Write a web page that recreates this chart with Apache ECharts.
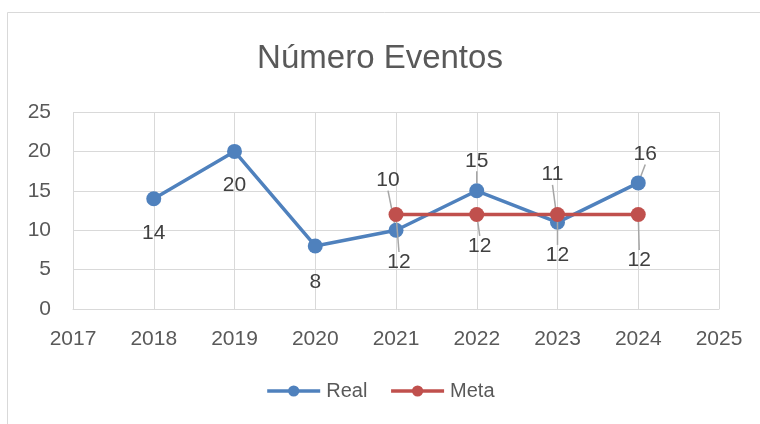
<!DOCTYPE html>
<html><head><meta charset="utf-8">
<script src="https://cdn.jsdelivr.net/npm/echarts@6/dist/echarts.min.js"></script>
<style>html,body{margin:0;padding:0;background:#fff}#c{width:760px;height:424px}</style>
</head><body><div id="c"></div>
<script>
const years = [2018, 2019, 2020, 2021, 2022, 2023, 2024];
const realValues = [14, 20, 8, 10, 15, 11, 16];
const metaYears = [2021, 2022, 2023, 2024];
const metaValues = [12, 12, 12, 12];
const xTicks = [2017, 2025];
const yTicks = [0, 25, 5];

// label offsets (px) relative to point, and whether leader line shows
const realLabelOffsets = [[0,35,false],[0,34,false],[0,36,false],[-8,-50,true],[0,-30,true],[-5,-48,true],[7,-29,true]];
const metaLabelOffsets = [[3,48,true],[3,32,true],[0,41,true],[1,46,true]];

const font = '"Liberation Sans", Arial, sans-serif';
const txt = '#595959';
const grid = '#d9d9d9';

function mk(xs, vs, offs) {
  return xs.map((x, i) => ({
    value: [x, vs[i]],
    labelLine: { show: offs[i][2] }
  }));
}

const chart = echarts.init(document.getElementById('c'), null, { renderer: 'canvas' });
chart.setOption({
  animation: false,
  backgroundColor: '#fff',
  graphic: [{
    type: 'rect', shape: { x: 7.5, y: 12.5, width: 800, height: 500 },
    style: { fill: 'none', stroke: '#d9d9d9', lineWidth: 1 }, z: -1
  }],
  title: {
    text: 'Número Eventos', left: 'center', top: 37,
    textStyle: { fontFamily: font, fontSize: 33, fontWeight: 'normal', color: txt }
  },
  grid: { left: 73, right: 41, top: 112, bottom: 115 },
  legend: {
    bottom: 18, left: 'center', itemWidth: 53, itemHeight: 14, itemGap: 22,
    lineStyle: { width: 3.5 },
    textStyle: { fontFamily: font, fontSize: 20, color: txt, padding: [0,0,0,1] },
    data: ['Real', 'Meta']
  },
  xAxis: {
    type: 'value', min: xTicks[0], max: xTicks[1], interval: 1,
    axisLine: { show: true, lineStyle: { color: grid } },
    axisTick: { show: false },
    splitLine: { show: true, lineStyle: { color: grid, width: 1 } },
    axisLabel: { formatter: v => String(v), margin: 20, fontFamily: font, fontSize: 21, color: txt }
  },
  yAxis: {
    type: 'value', min: yTicks[0], max: yTicks[1], interval: yTicks[2],
    axisLine: { show: false }, axisTick: { show: false },
    splitLine: { show: true, lineStyle: { color: grid, width: 1 } },
    axisLabel: { margin: 22, fontFamily: font, fontSize: 21, color: txt }
  },
  series: [
    {
      name: 'Real', type: 'line', data: mk(years, realValues, realLabelOffsets),
      symbol: 'circle', symbolSize: 15,
      itemStyle: { color: '#4f81bd' }, lineStyle: { color: '#4f81bd', width: 3.5 },
      label: { show: true, position: 'inside', formatter: p => p.value[1], fontFamily: font, fontSize: 21, color: '#404040' },
      labelLine: { show: true, lineStyle: { color: '#a6a6a6', width: 1.5 } },
      labelLayout: p => ({ dx: realLabelOffsets[p.dataIndex][0], dy: realLabelOffsets[p.dataIndex][1] }),
      z: 2
    },
    {
      name: 'Meta', type: 'line', data: mk(metaYears, metaValues, metaLabelOffsets),
      symbol: 'circle', symbolSize: 15,
      itemStyle: { color: '#c0504d' }, lineStyle: { color: '#c0504d', width: 3.5 },
      label: { show: true, position: 'inside', formatter: p => p.value[1], fontFamily: font, fontSize: 21, color: '#404040' },
      labelLine: { show: true, lineStyle: { color: '#a6a6a6', width: 1.5 } },
      labelLayout: p => ({ dx: metaLabelOffsets[p.dataIndex][0], dy: metaLabelOffsets[p.dataIndex][1] }),
      z: 3
    }
  ]
});
</script></body></html>
